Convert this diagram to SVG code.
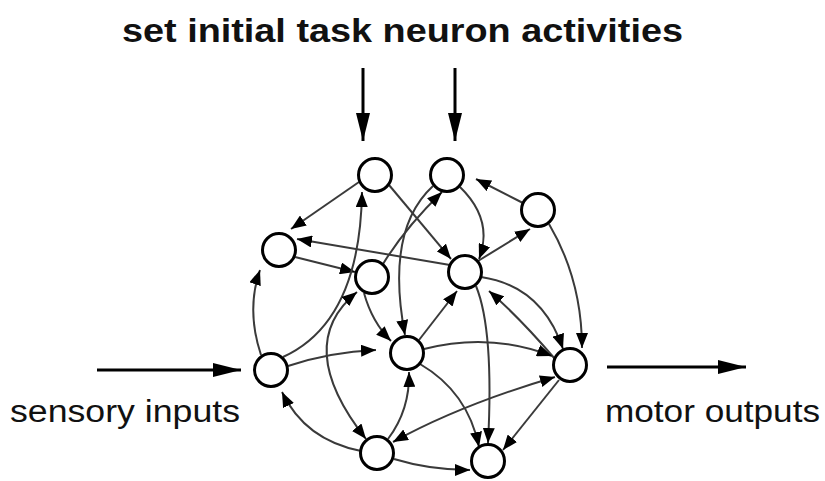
<svg xmlns="http://www.w3.org/2000/svg" width="825" height="481" viewBox="0 0 825 481">
  <style>
    .lbl { font-family: "Liberation Sans", Arial, sans-serif; fill: #111; }
    .title { font-weight: bold; font-size: 34px; }
    .side { font-size: 31px; }
    .edge { fill: none; stroke: #3a3a3a; stroke-width: 2; marker-end: url(#head); }
    .both { marker-start: url(#head); }
    .io { fill: none; stroke: #000; stroke-width: 3; marker-end: url(#bighead); }
    .node { fill: #fff; stroke: #000; stroke-width: 3; }
  </style>
  <defs>
    <marker id="head" markerUnits="userSpaceOnUse" markerWidth="15" markerHeight="12" refX="15" refY="6" orient="auto-start-reverse">
      <path d="M0,0 L15,6 L0,12 z" fill="#000"/>
    </marker>
    <marker id="bighead" markerUnits="userSpaceOnUse" markerWidth="28" markerHeight="14" refX="28" refY="7" orient="auto">
      <path d="M0,0 L28,7 L0,14 z" fill="#000"/>
    </marker>
  </defs>

  <rect width="825" height="481" fill="#fff"/>

  <!-- labels -->
  <text class="lbl title" x="122" y="42" textLength="561" lengthAdjust="spacingAndGlyphs">set initial task neuron activities</text>
  <text class="lbl side" x="10" y="422" textLength="230" lengthAdjust="spacingAndGlyphs">sensory inputs</text>
  <text class="lbl side" x="605" y="422" textLength="215" lengthAdjust="spacingAndGlyphs">motor outputs</text>

  <!-- external inputs and outputs -->
  <g id="io">
    <path class="io" d="M363 68 L363 141"/>
    <path class="io" d="M455 68 L455 141"/>
    <path class="io" d="M97 370 L241 370"/>
    <path class="io" d="M607 367 L746 367"/>
  </g>

  <!-- recurrent connections -->
  <g id="connectors">
    <path class="edge" d="M359 182 L291 229"/>
    <path class="edge" d="M450 265 L297 239"/>
    <path class="edge" d="M295 257 L355 272"/>
    <path class="edge" d="M283 357 Q360 322 362 192"/>
    <path class="edge" d="M389 185 L451 259"/>
    <path class="edge" d="M433 186 Q385 230 405 335"/>
    <path class="edge" d="M383 264 Q405 228 442 192"/>
    <path class="edge" d="M523 203 L476 179"/>
    <path class="edge" d="M478 261 L530 229"/>
    <path class="edge" d="M460 187 Q494 220 479 259"/>
    <path class="edge" d="M549 224 Q582 280 582 348"/>
    <path class="edge" d="M481 277 Q542 286 563 349"/>
    <path class="edge" d="M555 359 Q520 318 489 291"/>
    <path class="edge" d="M424 349 Q490 332 552 356"/>
    <path class="edge both" d="M393 442 Q460 405 555 377"/>
    <path class="edge" d="M261 355 Q246 310 260 270"/>
    <path class="edge" d="M288 366 Q330 352 376 350"/>
    <path class="edge both" d="M366 439 Q292 345 357 292"/>
    <path class="edge" d="M364 293 Q372 322 391 341"/>
    <path class="edge" d="M419 340 L457 291"/>
    <path class="edge" d="M476 286 Q494 330 488 443"/>
    <path class="edge" d="M559 380 L503 450"/>
    <path class="edge" d="M420 364 Q468 392 479 447"/>
    <path class="edge" d="M394 459 Q430 470 470 470"/>
    <path class="edge" d="M361 451 Q305 440 282 392"/>
    <path class="edge" d="M388 439 Q410 410 409 372"/>
  </g>

  <!-- neurons -->
  <g id="nA"><circle class="node" cx="375" cy="175" r="16.5"/></g>
  <g id="nB"><circle class="node" cx="447" cy="175" r="16.5"/></g>
  <g id="nC"><circle class="node" cx="538" cy="210" r="16.5"/></g>
  <g id="nD"><circle class="node" cx="279" cy="250" r="16.5"/></g>
  <g id="nE"><circle class="node" cx="372" cy="277" r="16.5"/></g>
  <g id="nF"><circle class="node" cx="465" cy="272" r="16.5"/></g>
  <g id="nG"><circle class="node" cx="271" cy="370" r="16.5"/></g>
  <g id="nH"><circle class="node" cx="407" cy="353" r="16.5"/></g>
  <g id="nI"><circle class="node" cx="570" cy="365" r="16.5"/></g>
  <g id="nJ"><circle class="node" cx="377" cy="453" r="16.5"/></g>
  <g id="nK"><circle class="node" cx="488" cy="461" r="16.5"/></g>
</svg>
